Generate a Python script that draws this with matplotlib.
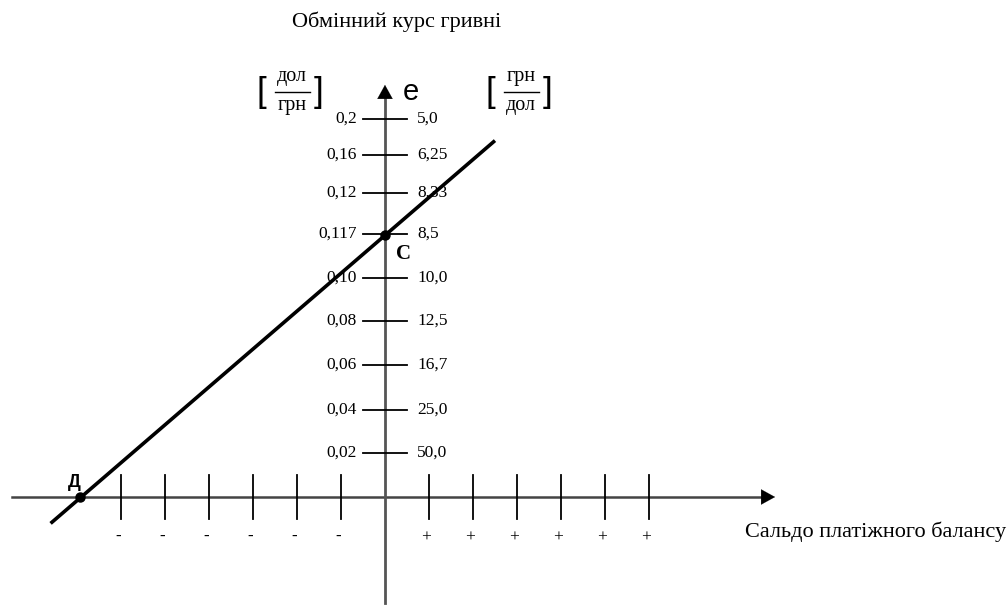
import matplotlib
matplotlib.use('Agg')
import matplotlib.pyplot as plt

# Обмінний курс гривні vs сальдо платіжного балансу (schematic)
left_labels = ['0,2', '0,16', '0,12', '0,117', '0,10', '0,08', '0,06', '0,04', '0,02']
right_labels = ['5,0', '6,25', '8,33', '8,5', '10,0', '12,5', '16,7', '25,0', '50,0']
y_levels = [8.59, 7.77, 6.91, 5.98, 4.98, 4.0, 3.0, 1.98, 1.0]

neg_ticks = [-6, -5, -4, -3, -2, -1]
pos_ticks = [1, 2, 3, 4, 5, 6]

# the straight line and the two marked points (Д, C)
line_x = [-7.6, 2.5]
line_y = [-0.6, 8.1]
point_x = [-6.93, 0.0]
point_y = [0.0, 5.95]
point_names = ['Д', 'C']

serif = 'Liberation Serif'
sans = 'Liberation Sans'

fig = plt.figure(figsize=(10.08, 6.07), dpi=100)
ax = fig.add_axes([0, 0, 1, 1])
ax.set_xlim(-8.75, 14.16)
ax.set_ylim(-2.5, 11.295)
ax.axis('off')

# axes with arrows
ax.plot([-8.48, 8.7], [0, 0], color='#444444', lw=1.8, zorder=1)
ax.plot([0, 0], [-2.41, 9.2], color='#555555', lw=2.0, zorder=1)
ax.annotate('', xy=(8.93, 0), xytext=(8.5, 0),
            arrowprops=dict(arrowstyle='-|>,head_length=1.0,head_width=0.55',
                            mutation_scale=10, color='black', lw=0.1))
ax.annotate('', xy=(0, 9.43), xytext=(0, 9.0),
            arrowprops=dict(arrowstyle='-|>,head_length=1.0,head_width=0.55',
                            mutation_scale=10, color='black', lw=0.1))

# vertical scale: ticks with two sets of labels
for lv, ll, rl in zip(y_levels, left_labels, right_labels):
    ax.plot([-0.5, 0.5], [lv, lv], color='black', lw=1.3, zorder=2)
    ax.text(-0.64, lv, ll, ha='right', va='center', family=serif, fontsize=12.5)
    ax.text(0.73, lv, rl, ha='left', va='center', family=serif, fontsize=12.5)

# horizontal scale
for t in neg_ticks:
    ax.plot([t, t], [-0.5, 0.5], color='black', lw=1.3, zorder=2)
    ax.text(t - 0.07, -0.91, '-', ha='center', va='center', family=serif,
            fontsize=12, fontweight='bold')
for t in pos_ticks:
    ax.plot([t, t], [-0.5, 0.5], color='black', lw=1.3, zorder=2)
    ax.text(t - 0.07, -0.93, '+', ha='center', va='center', family=serif, fontsize=12.5)

# the line and points
ax.plot(line_x, line_y, color='black', lw=2.6, solid_capstyle='butt', zorder=3)
ax.plot(point_x, point_y, 'o', color='black', ms=6.5, zorder=4)
ax.text(point_x[0] - 0.12, point_y[0] + 0.32, point_names[0], ha='center', va='center',
        family=sans, fontweight='bold', fontsize=13)
ax.text(point_x[1] + 0.41, point_y[1] - 0.42, point_names[1], ha='center', va='center',
        family=serif, fontweight='bold', fontsize=15)

# unit brackets
def unit(xc, top, bottom):
    ax.text(xc - 0.7, 9.2, '[', ha='center', va='center', family=sans, fontsize=25)
    ax.text(xc, 9.55, top, ha='center', va='center', family=serif, fontsize=14.5)
    ax.plot([xc - 0.38, xc + 0.4], [9.2, 9.2], color='black', lw=1.0)
    ax.text(xc, 8.9, bottom, ha='center', va='center', family=serif, fontsize=14.5)
    ax.text(xc + 0.6, 9.2, ']', ha='center', va='center', family=sans, fontsize=25)

unit(-2.11, 'дол', 'грн')
unit(3.09, 'грн', 'дол')

ax.text(0.41, 9.2, 'e', ha='left', va='center', family=sans, fontsize=21)
ax.text(0.27, 10.8, 'Обмінний курс гривні', ha='center', va='center', family=serif, fontsize=16)
ax.text(8.18, -0.8, 'Сальдо платіжного балансу', ha='left', va='center', family=serif, fontsize=16)

fig.savefig('out.png', dpi=100)
